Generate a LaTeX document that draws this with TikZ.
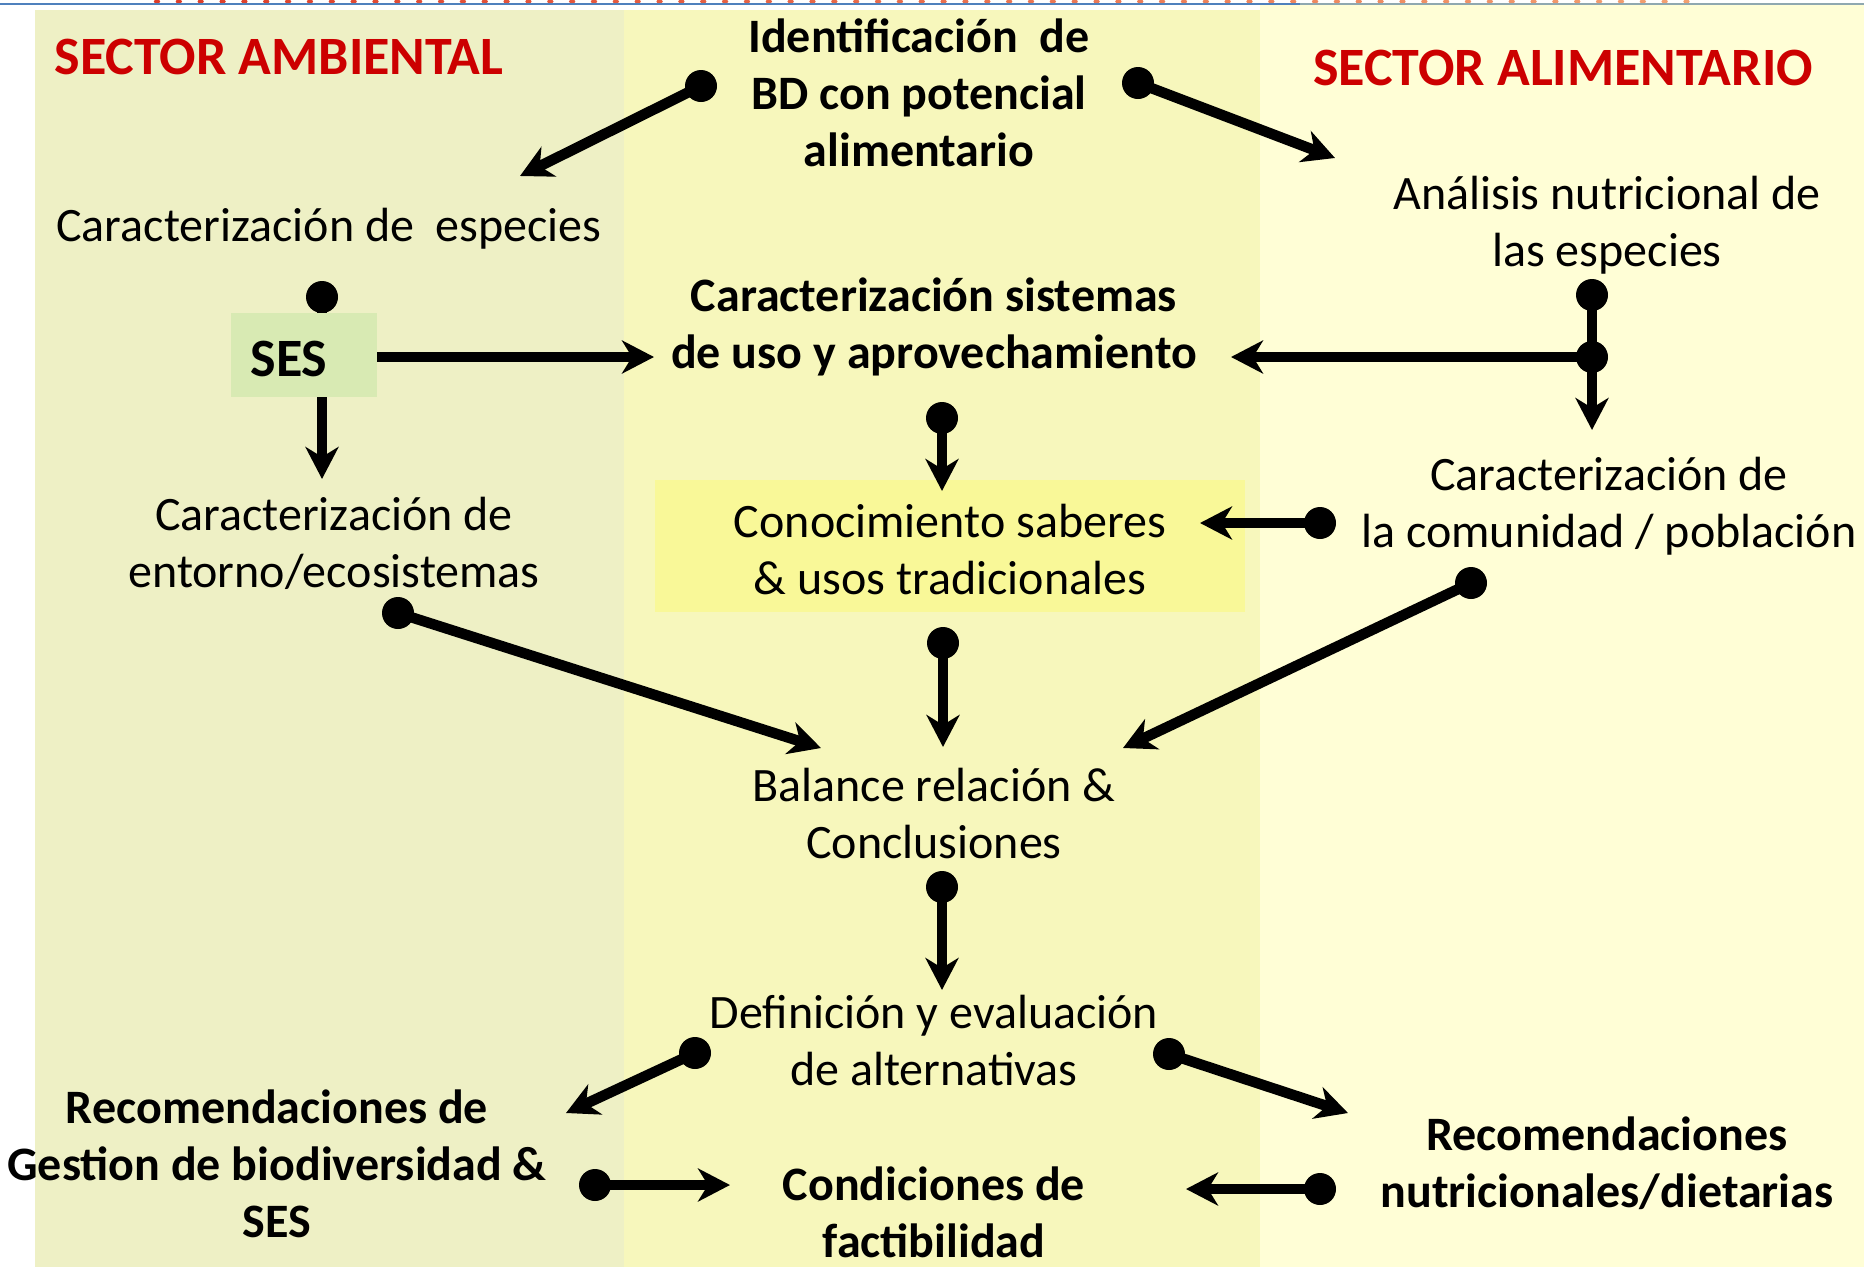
\documentclass[tikz,border=0pt]{standalone}
\usepackage{fontspec}
\setmainfont{Carlito}
\usetikzlibrary{arrows.meta}
\definecolor{panelL}{RGB}{238,240,197}
\definecolor{panelM}{RGB}{247,247,188}
\definecolor{panelR}{RGB}{255,254,214}
\definecolor{conocfill}{RGB}{249,248,152}
\definecolor{sesfill}{RGB}{216,234,179}
\definecolor{titlered}{RGB}{204,0,0}
\definecolor{topblue}{RGB}{79,129,189}
\definecolor{topgrey}{RGB}{143,168,176}
\definecolor{dotred}{RGB}{222,60,40}
\definecolor{dotorange}{RGB}{245,170,120}
\begin{document}
\begin{tikzpicture}[x=1pt,y=-1pt,
  txt/.style={font=\fontsize{48}{57}\selectfont, align=center, inner sep=0pt},
  btxt/.style={font=\fontsize{48}{57}\selectfont\bfseries, align=center, inner sep=0pt},
  ttl/.style={font=\fontsize{54}{60}\selectfont\bfseries, text=titlered, inner sep=0pt},
  conn/.style={line width=10.5pt, -{Stealth[length=32pt,width=33pt,inset=10pt]}},
  blob/.style={fill=black}
]
\useasboundingbox (0,0) rectangle (1864,1267);
% backgrounds
\fill[white] (0,0) rectangle (1864,1267);
\fill[panelL] (35,10) rectangle (624,1267);
\fill[panelM] (624,10) rectangle (1260,1267);
\fill[panelR] (1260,5) rectangle (1864,1267);
% top strip
\foreach \i in {0,...,70}{
  \pgfmathsetmacro\m{100-1.3*\i}
  \fill[dotred!\m!dotorange] ({157+21.85*\i},1.5) ellipse [x radius=3.2pt, y radius=2pt];
}
\draw[line width=1.6pt, topblue] (0,4) -- (1300,4);
\draw[line width=1.6pt, topgrey] (1300,4) -- (1864,4);

% coordinates of connectors
\coordinate (d1) at (701,86);   \coordinate (t1) at (520,176);
\coordinate (d2) at (1138,83);  \coordinate (t2) at (1335,158);
\coordinate (d3) at (322,297);  \coordinate (t3) at (322,479);
\coordinate (t4) at (654,357);
\coordinate (d5a) at (1592,295); \coordinate (d5b) at (1592,357);
\coordinate (t5) at (1592,430); \coordinate (t5b) at (1231,357);
\coordinate (d6) at (942,418);  \coordinate (t6) at (942,491);
\coordinate (d7) at (1320,523); \coordinate (t7) at (1200,523);
\coordinate (d8) at (398,613);  \coordinate (t8) at (821,748);
\coordinate (d9) at (943,643);  \coordinate (t9) at (943,747);
\coordinate (d10) at (1471,583); \coordinate (t10) at (1123,748);
\coordinate (d11) at (942,887); \coordinate (t11) at (942,990);
\coordinate (d12) at (695,1053); \coordinate (t12) at (566,1113);
\coordinate (d13) at (1169,1054); \coordinate (t13) at (1348,1113);
\coordinate (d14) at (595,1185); \coordinate (t14) at (730,1185);
\coordinate (d15) at (1320,1189); \coordinate (t15) at (1186,1189);

% SES vertical (under the box)
\draw[conn] (d3) -- (t3);
\fill[blob] (d3) circle[radius=16pt];

% boxes
\node (sesbox) [fill=sesfill, minimum width=146pt, minimum height=84pt, inner sep=0pt] at (304,355) {};
\node (ses) [inner sep=0pt, font=\fontsize{54}{60}\selectfont\bfseries] at (289,359) {SES};
\node (conocbox) [fill=conocfill, minimum width=590pt, minimum height=132pt, inner sep=0pt] at (950,546) {};
\node (conoc) [txt] at (950,550) {Conocimiento saberes\\\& usos tradicionales};

% texts
\node (titleL) [ttl] at (279,57) {SECTOR AMBIENTAL};
\node (titleR) [ttl] at (1563,68) {SECTOR ALIMENTARIO};
\node (ident) [btxt] at (919,93) {Identificación\ \ de\\BD con potencial\\alimentario};
\node (especies) [txt] at (329,229) {Caracterización de\ \ especies};
\node (analisis) [txt] at (1607,225) {Análisis nutricional de\\las especies};
\node (sistemas) [btxt] at (934,327) {Caracterización sistemas\\de uso y aprovechamiento};
\node (entorno) [txt] at (334,543) {Caracterización de\\entorno/ecosistemas};
\node (comunidad) [txt] at (1609,506) {Caracterización de\\la comunidad / población};
\node (balance) [txt] at (934,813) {Balance relación \&\\Conclusiones};
\node (definicion) [txt] at (934,1040) {Definición y evaluación\\de alternativas};
\node (recgest) [btxt] at (277,1164) {Recomendaciones de\\Gestion de biodiversidad \&\\SES};
\node (condiciones) [btxt] at (934,1212) {Condiciones de\\factibilidad};
\node (recnut) [btxt] at (1607,1163) {Recomendaciones\\nutricionales/dietarias};

% connectors
\draw[conn] (sesbox.east |- t4) -- (t4);
\draw[conn] (d1) -- (t1);
\draw[conn] (d2) -- (t2);
\draw[conn] (d5a) -- (t5);
\draw[conn] (d5b) -- (t5b);
\draw[conn] (d6) -- (t6);
\draw[conn] (d7) -- (t7);
\draw[conn] (d8) -- (t8);
\draw[conn] (d9) -- (t9);
\draw[conn] (d10) -- (t10);
\draw[conn] (d11) -- (t11);
\draw[conn] (d12) -- (t12);
\draw[conn] (d13) -- (t13);
\draw[conn] (d14) -- (t14);
\draw[conn] (d15) -- (t15);
\foreach \c in {d1,d2,d5a,d5b,d6,d7,d8,d9,d10,d11,d12,d13,d14,d15}
  \fill[blob] (\c) circle[radius=16pt];
\end{tikzpicture}
\end{document}
